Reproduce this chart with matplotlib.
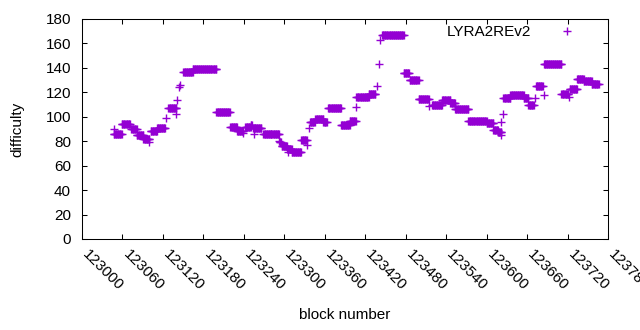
import numpy as np
import matplotlib
matplotlib.use('Agg')
import matplotlib.pyplot as plt

plt.rcParams['font.family'] = ['Liberation Sans', 'DejaVu Sans']

# difficulty read off the chart as runs of blocks with the same value
# (start == end means a single block)
run_start = [123047, 123048, 123059, 123073, 123081, 123091, 123100, 123102, 123111, 123125,
             123128, 123140, 123141, 123144, 123146, 123150, 123164, 123199, 123220, 123230,
             123239, 123242, 123250, 123254, 123255, 123269, 123281, 123292, 123293, 123296,
             123304, 123305, 123311, 123325, 123334, 123336, 123338, 123346, 123358, 123365,
             123384, 123397, 123407, 123407, 123425, 123437, 123440, 123442, 123445, 123477,
             123486, 123499, 123514, 123519, 123534, 123546, 123553, 123573, 123600, 123610,
             123617, 123622, 123622, 123625, 123625, 123635, 123655, 123662, 123672, 123673,
             123685, 123685, 123711, 123722, 123723, 123734, 123744, 123756]
run_end = [123059, 123048, 123071, 123081, 123091, 123100, 123100, 123111, 123123, 123125,
           123140, 123140, 123141, 123144, 123146, 123164, 123199, 123219, 123230, 123239,
           123239, 123250, 123252, 123266, 123255, 123281, 123292, 123292, 123295, 123304,
           123311, 123305, 123325, 123333, 123334, 123336, 123345, 123358, 123363, 123384,
           123397, 123406, 123407, 123425, 123435, 123437, 123440, 123442, 123477, 123485,
           123499, 123514, 123514, 123534, 123546, 123553, 123573, 123600, 123610, 123617,
           123622, 123622, 123622, 123625, 123635, 123655, 123662, 123670, 123672, 123683,
           123685, 123711, 123721, 123722, 123734, 123744, 123756, 123766]
run_diff = [86, 90, 94, 90, 85, 82, 79, 88, 90.5, 99,
            107, 102, 114, 124, 126, 136.5, 139, 103.6, 91.4, 88.5,
            87, 91.6, 93, 91, 86, 86, 85.6, 80, 79, 76,
            73.6, 71, 71, 80.7, 77, 91, 96, 98.2, 96, 107,
            93, 96.5, 108, 116.5, 118.4, 125, 143, 162.8, 166.6, 135.5,
            130, 114.5, 109, 110, 113.7, 111, 106.4, 96.3, 95, 89.2,
            87.5, 85, 96, 102, 115, 117.8, 115, 109.4, 115.6, 125.5,
            117.8, 143, 119, 116, 123, 130.6, 129, 126.6]

xtick_values = list(range(123000, 123781, 60))
ytick_values = list(range(0, 181, 20))

blocks = []
diffs = []
for s, e, d in zip(run_start, run_end, run_diff):
    for b in range(s, e + 1):
        blocks.append(b)
        diffs.append(d)

fig = plt.figure(figsize=(6.4, 3.3), dpi=100)
ax = fig.add_axes([82 / 640, 1 - 239 / 330, 526 / 640, 220 / 330])

ax.plot(blocks, diffs, linestyle='none', marker='+', markersize=5.8,
        markeredgewidth=1.0, color='#9400d3', label='LYRA2REv2')

ax.set_xlim(123000, 123780)
ax.set_ylim(0, 180)
ax.set_xticks(xtick_values)
ax.set_yticks(ytick_values)
ax.set_xticklabels([str(v) for v in xtick_values], rotation=-45,
                   ha='left', va='baseline', rotation_mode='anchor')

ax.tick_params(direction='in', length=3.6, width=0.75, labelsize=11,
               top=True, right=True, colors='black')
ax.tick_params(axis='y', pad=8)
ax.tick_params(axis='x', pad=11.5)
for sp in ax.spines.values():
    sp.set_linewidth(0.75)

ax.set_xlabel('block number', fontsize=11)
ax.set_ylabel('difficulty', fontsize=11)
ax.xaxis.set_label_coords(0.5, -0.315)
ax.yaxis.set_label_coords(-0.11, 0.5)

ax.legend(loc='upper right', bbox_to_anchor=(0.962, 1.0), borderaxespad=0,
          frameon=False, markerfirst=False, fontsize=11, handlelength=2,
          handletextpad=1.3, borderpad=0.4)

fig.savefig('out.png', dpi=100)
